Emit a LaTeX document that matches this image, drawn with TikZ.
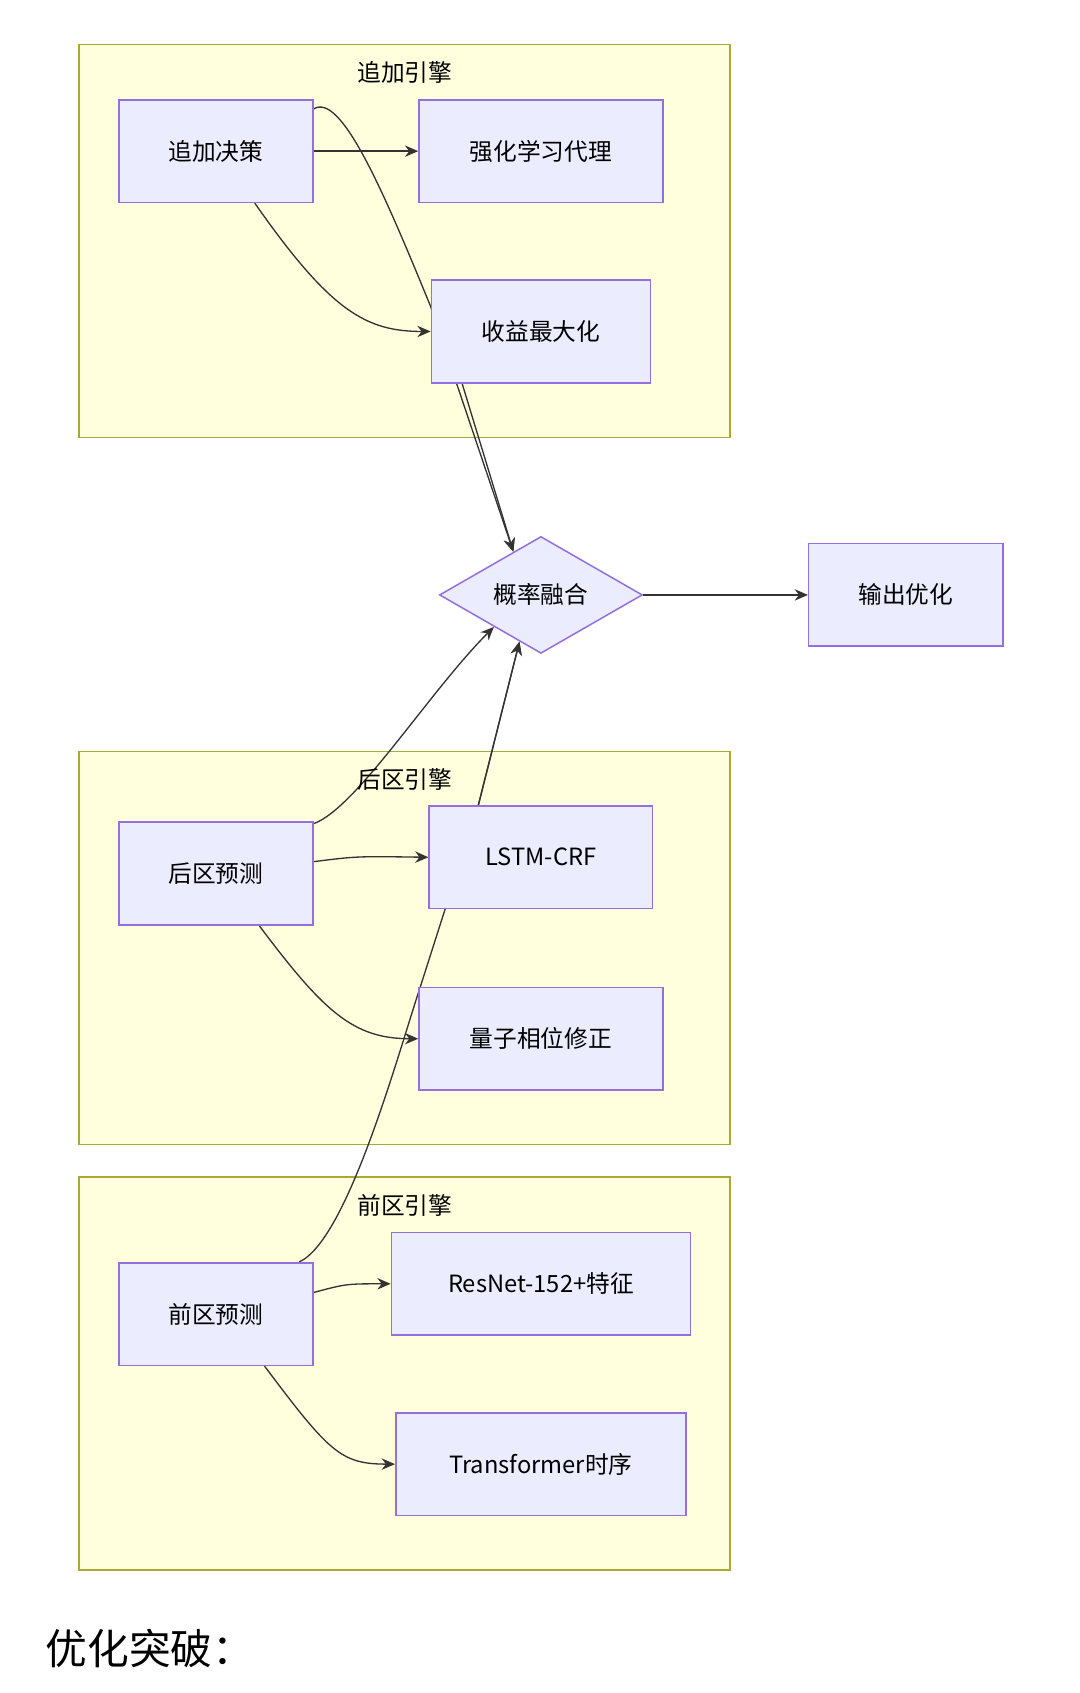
\documentclass[tikz,border=0pt]{standalone}
\usepackage{fontspec}
\setmainfont{Noto Sans CJK SC}
\usetikzlibrary{shapes.geometric, arrows.meta, calc, backgrounds}
\definecolor{boxfill}{HTML}{ECECFF}
\definecolor{boxline}{HTML}{9370DB}
\definecolor{grpfill}{HTML}{FFFFDE}
\definecolor{grpline}{HTML}{AAAA33}
\definecolor{edge}{HTML}{333333}
\pgfdeclarelayer{edges}
\pgfsetlayers{background,edges,main}
\tikzset{
  box/.style={rectangle, draw=boxline, fill=boxfill, line width=0.8pt, minimum height=1.9cm, inner sep=0pt, font=\fontsize{12.5}{14}\selectfont},
  fuse/.style={diamond, aspect=1, draw=boxline, fill=boxfill, line width=0.8pt, minimum width=3.76cm, inner sep=0pt, font=\fontsize{12.5}{14}\selectfont},
  group/.style={draw=grpline, fill=grpfill, line width=0.8pt},
  grouplabel/.style={font=\fontsize{12.5}{14}\selectfont},
  arrow/.style={draw=edge, line width=0.7pt, -{Stealth[length=7pt,width=6pt]}},
}
\begin{document}
\begin{tikzpicture}[x=0.02cm, y=-0.02cm]
\useasboundingbox (0,0) rectangle (1000,1568);

% groups
\begin{scope}[on background layer]
\draw[group] (73,41) rectangle (676,405);
\draw[group] (73,696) rectangle (676,1060);
\draw[group] (73,1090) rectangle (676,1454);
\end{scope}
\node[grouplabel] (gzj) at (375,67) {追加引擎};
\node[grouplabel] (ghq) at (375,722) {后区引擎};
\node[grouplabel] (gqq) at (375,1116) {前区引擎};

% nodes
\node (zj) [box, minimum width=3.6cm] at (200,140) {追加决策};
\node (rl) [box, minimum width=4.52cm] at (501,140) {强化学习代理};
\node (sy) [box, minimum width=4.06cm] at (501,307) {收益最大化};
\node (fusion) [fuse] at (501,551) {概率融合};
\node (out) [box, minimum width=3.6cm] at (839,551) {输出优化};
\node (hq) [box, minimum width=3.6cm] at (200,809) {后区预测};
\node (lstm) [box, minimum width=4.14cm] at (501,794) {LSTM-CRF};
\node (lz) [box, minimum width=4.52cm] at (501,962) {量子相位修正};
\node (qq) [box, minimum width=3.6cm] at (200,1217) {前区预测};
\node (rn) [box, minimum width=5.54cm] at (501,1189) {ResNet-152+特征};
\node (tf) [box, minimum width=5.38cm] at (501,1356) {Transformer时序};

\node (title) [anchor=west, font=\fontsize{22}{26}\selectfont] at (36,1527) {优化突破：};

% edges
\coordinate (fnw) at ($(fusion.west)!0.73!(fusion.north)$);
\coordinate (fsw) at ($(fusion.west)!0.54!(fusion.south)$);
\coordinate (fsw2) at ($(fusion.west)!0.79!(fusion.south)$);
\begin{pgfonlayer}{edges}
\draw [arrow] (zj) -- (rl);
\draw [arrow] ($(zj.south)+(36,0)$) .. controls +(70,100) and +(-60,0) .. (sy.west);
\draw [arrow] ($(zj.north east)+(0,9)$) .. controls +(25,-15) and +(-45,-110) .. ($(sy.north west)+(0,25)$) -- (fnw);
\draw [arrow] ($(sy.south)+(-73,0)$) -- (fnw);
\draw [arrow] (fusion) -- (out);
\draw [arrow] ($(hq.north east)+(0,2)$) .. controls +(40,-15) and +(-60,60) .. (fsw);
\draw [arrow] ($(hq.east)+(0,-11)$) .. controls +(40,-5) .. (lstm.west);
\draw [arrow] ($(hq.south)+(40,0)$) .. controls +(60,80) and +(-60,0) .. (lz.west);
\draw [arrow] ($(lstm.north)+(-58,0)$) -- (fsw2);
\draw [arrow] ($(qq.north)+(77,0)$) .. controls +(45,-20) and +(-20,60) .. ($(lz.north west)+(2,0)$) -- ($(lstm.north)+(-58,0)$) -- (fsw2);
\draw [arrow] ($(qq.east)+(0,-20)$) .. controls +(30,-8) .. (rn.west);
\draw [arrow] ($(qq.south)+(45,0)$) .. controls +(60,80) and +(-50,0) .. (tf.west);
\end{pgfonlayer}
\end{tikzpicture}
\end{document}
